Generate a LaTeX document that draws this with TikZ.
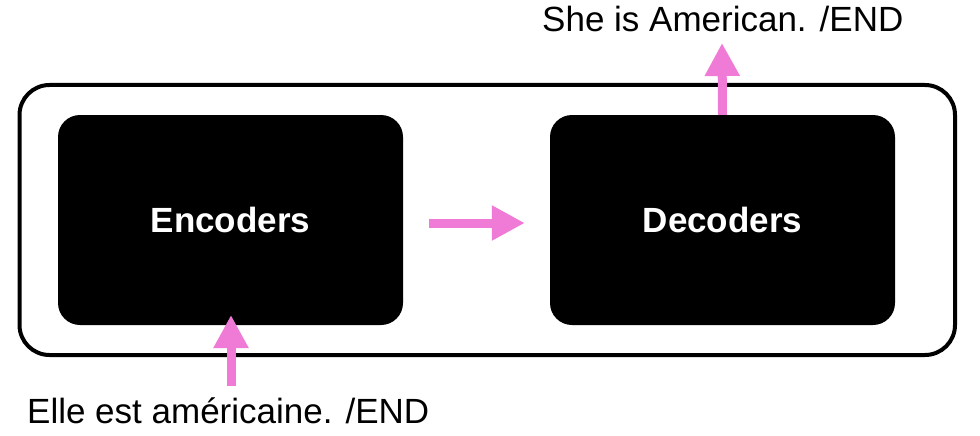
\documentclass[tikz,border=0pt]{standalone}
\usepackage{fontspec}
\setmainfont{Liberation Sans}
\usetikzlibrary{arrows.meta}
\definecolor{pinkarrow}{HTML}{EF7BD6}
\begin{document}
\begin{tikzpicture}[x=1pt,y=-1pt,
  blockbox/.style={draw=none,fill=black,text=white,rounded corners=22pt,
    minimum width=345pt,minimum height=210pt,inner sep=0pt,
    font=\fontsize{35}{42}\selectfont\bfseries},
  framebox/.style={draw=black,line width=4pt,rounded corners=30pt,
    minimum width=935.5pt,minimum height=270pt,inner sep=0pt},
  label/.style={inner sep=0pt,anchor=base west,font=\fontsize{35}{42}\selectfont},
  pinkarr/.style={draw=pinkarrow,line width=9pt,
    -{Triangle[length=33pt,width=33pt]}}
]
\useasboundingbox (0,0) rectangle (980,436);
\node[framebox] (frame) at (487.25,220) {};
\node[blockbox] (enc) at (230.5,220) {Encoders};
\node[blockbox] (dec) at (722.5,220) {Decoders};
\node[label] (out) at (542,32) {She is American. /END};
\node[label] (in) at (27,423) {Elle est américaine. /END};
\coordinate (insrc) at (231,386);
\coordinate (intip) at (231,315);
\coordinate (outtip) at (722,43);
\draw[pinkarr] (insrc) -- (intip);
\draw[pinkarr] (dec.north) -- (outtip);
\draw[pinkarr,shorten <=26pt,shorten >=25pt] ([yshift=-3pt]enc.east) -- ([yshift=-3pt]dec.west);
\end{tikzpicture}
\end{document}
